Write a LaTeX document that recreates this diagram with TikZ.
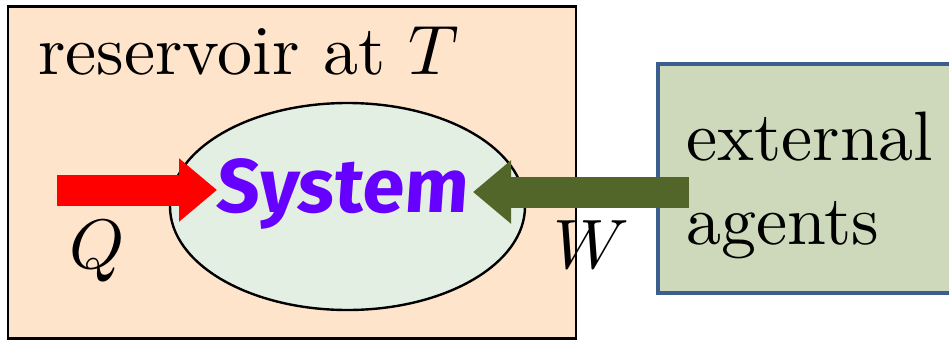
\documentclass[tikz,border=0pt]{standalone}
\usepackage{fontspec}
\setmainfont{lmroman10-regular.otf}[ItalicFont=lmroman10-italic.otf, BoldFont=lmroman10-bold.otf]
\DeclareFontShape{OML}{cmm}{m}{it}{<-> cmmi10}{\skewchar\font127 }
\newfontfamily\sysfont[FakeSlant=0.07]{Fira Sans}
\usetikzlibrary{shapes.geometric,arrows.meta}
\definecolor{peach}{HTML}{FFE4CC}
\definecolor{ellfill}{HTML}{E4EFE3}
\definecolor{extfill}{HTML}{CED8BA}
\definecolor{extborder}{HTML}{3C5E8E}
\definecolor{olive}{HTML}{536629}
\definecolor{sysviolet}{HTML}{6600FF}
\tikzset{
  bigtext/.style={inner sep=0pt, font=\fontsize{70}{84}\selectfont},
  resbox/.style={draw=black, line width=2.6pt, fill=peach, rectangle, inner sep=0pt},
  sysell/.style={draw=black, line width=2.4pt, fill=ellfill, ellipse, inner sep=0pt},
  extbox/.style={draw=extborder, line width=4pt, fill=extfill, rectangle, inner sep=0pt},
  blockarrow/.style={line width=31pt, line cap=butt, -{Triangle[length=38pt,width=61pt]}},
}
\begin{document}
\begin{tikzpicture}[x=1pt,y=-1pt]
\useasboundingbox (0,0) rectangle (949,341);
\clip (0,0) rectangle (949,341);
\node[resbox, minimum width=568pt, minimum height=332pt] (res) at (292,172.5) {};
\node[sysell, minimum width=355pt, minimum height=207pt] (sys) at (347.5,206.5) {};
\node[bigtext, anchor=base west] (reslabel) at (38,74) {reservoir at $T$};
\node[inner sep=0pt, anchor=base, text=sysviolet, font=\fontsize{76}{80}\sysfont\bfseries] (systext) at (341.5,212) {System};
\node[extbox, minimum width=303pt, minimum height=229pt] (ext) at (809,178.5) {};
\node[bigtext, anchor=base west] (ext1) at (686,160) {external};
\node[bigtext, anchor=base west] (ext2) at (686,244) {agents};
\coordinate (qstart) at (57,190);
\coordinate (qend) at (217,190);
\coordinate (wstart) at (689,192);
\coordinate (wend) at (473,192);
\draw[blockarrow, red] (qstart) -- (qend);
\draw[blockarrow, olive] (wstart) -- (wend);
\node[bigtext, anchor=base] (q) at (97,268) {$Q$};
\node[bigtext, anchor=base] (w) at (591,268) {$W$};
\end{tikzpicture}
\end{document}
